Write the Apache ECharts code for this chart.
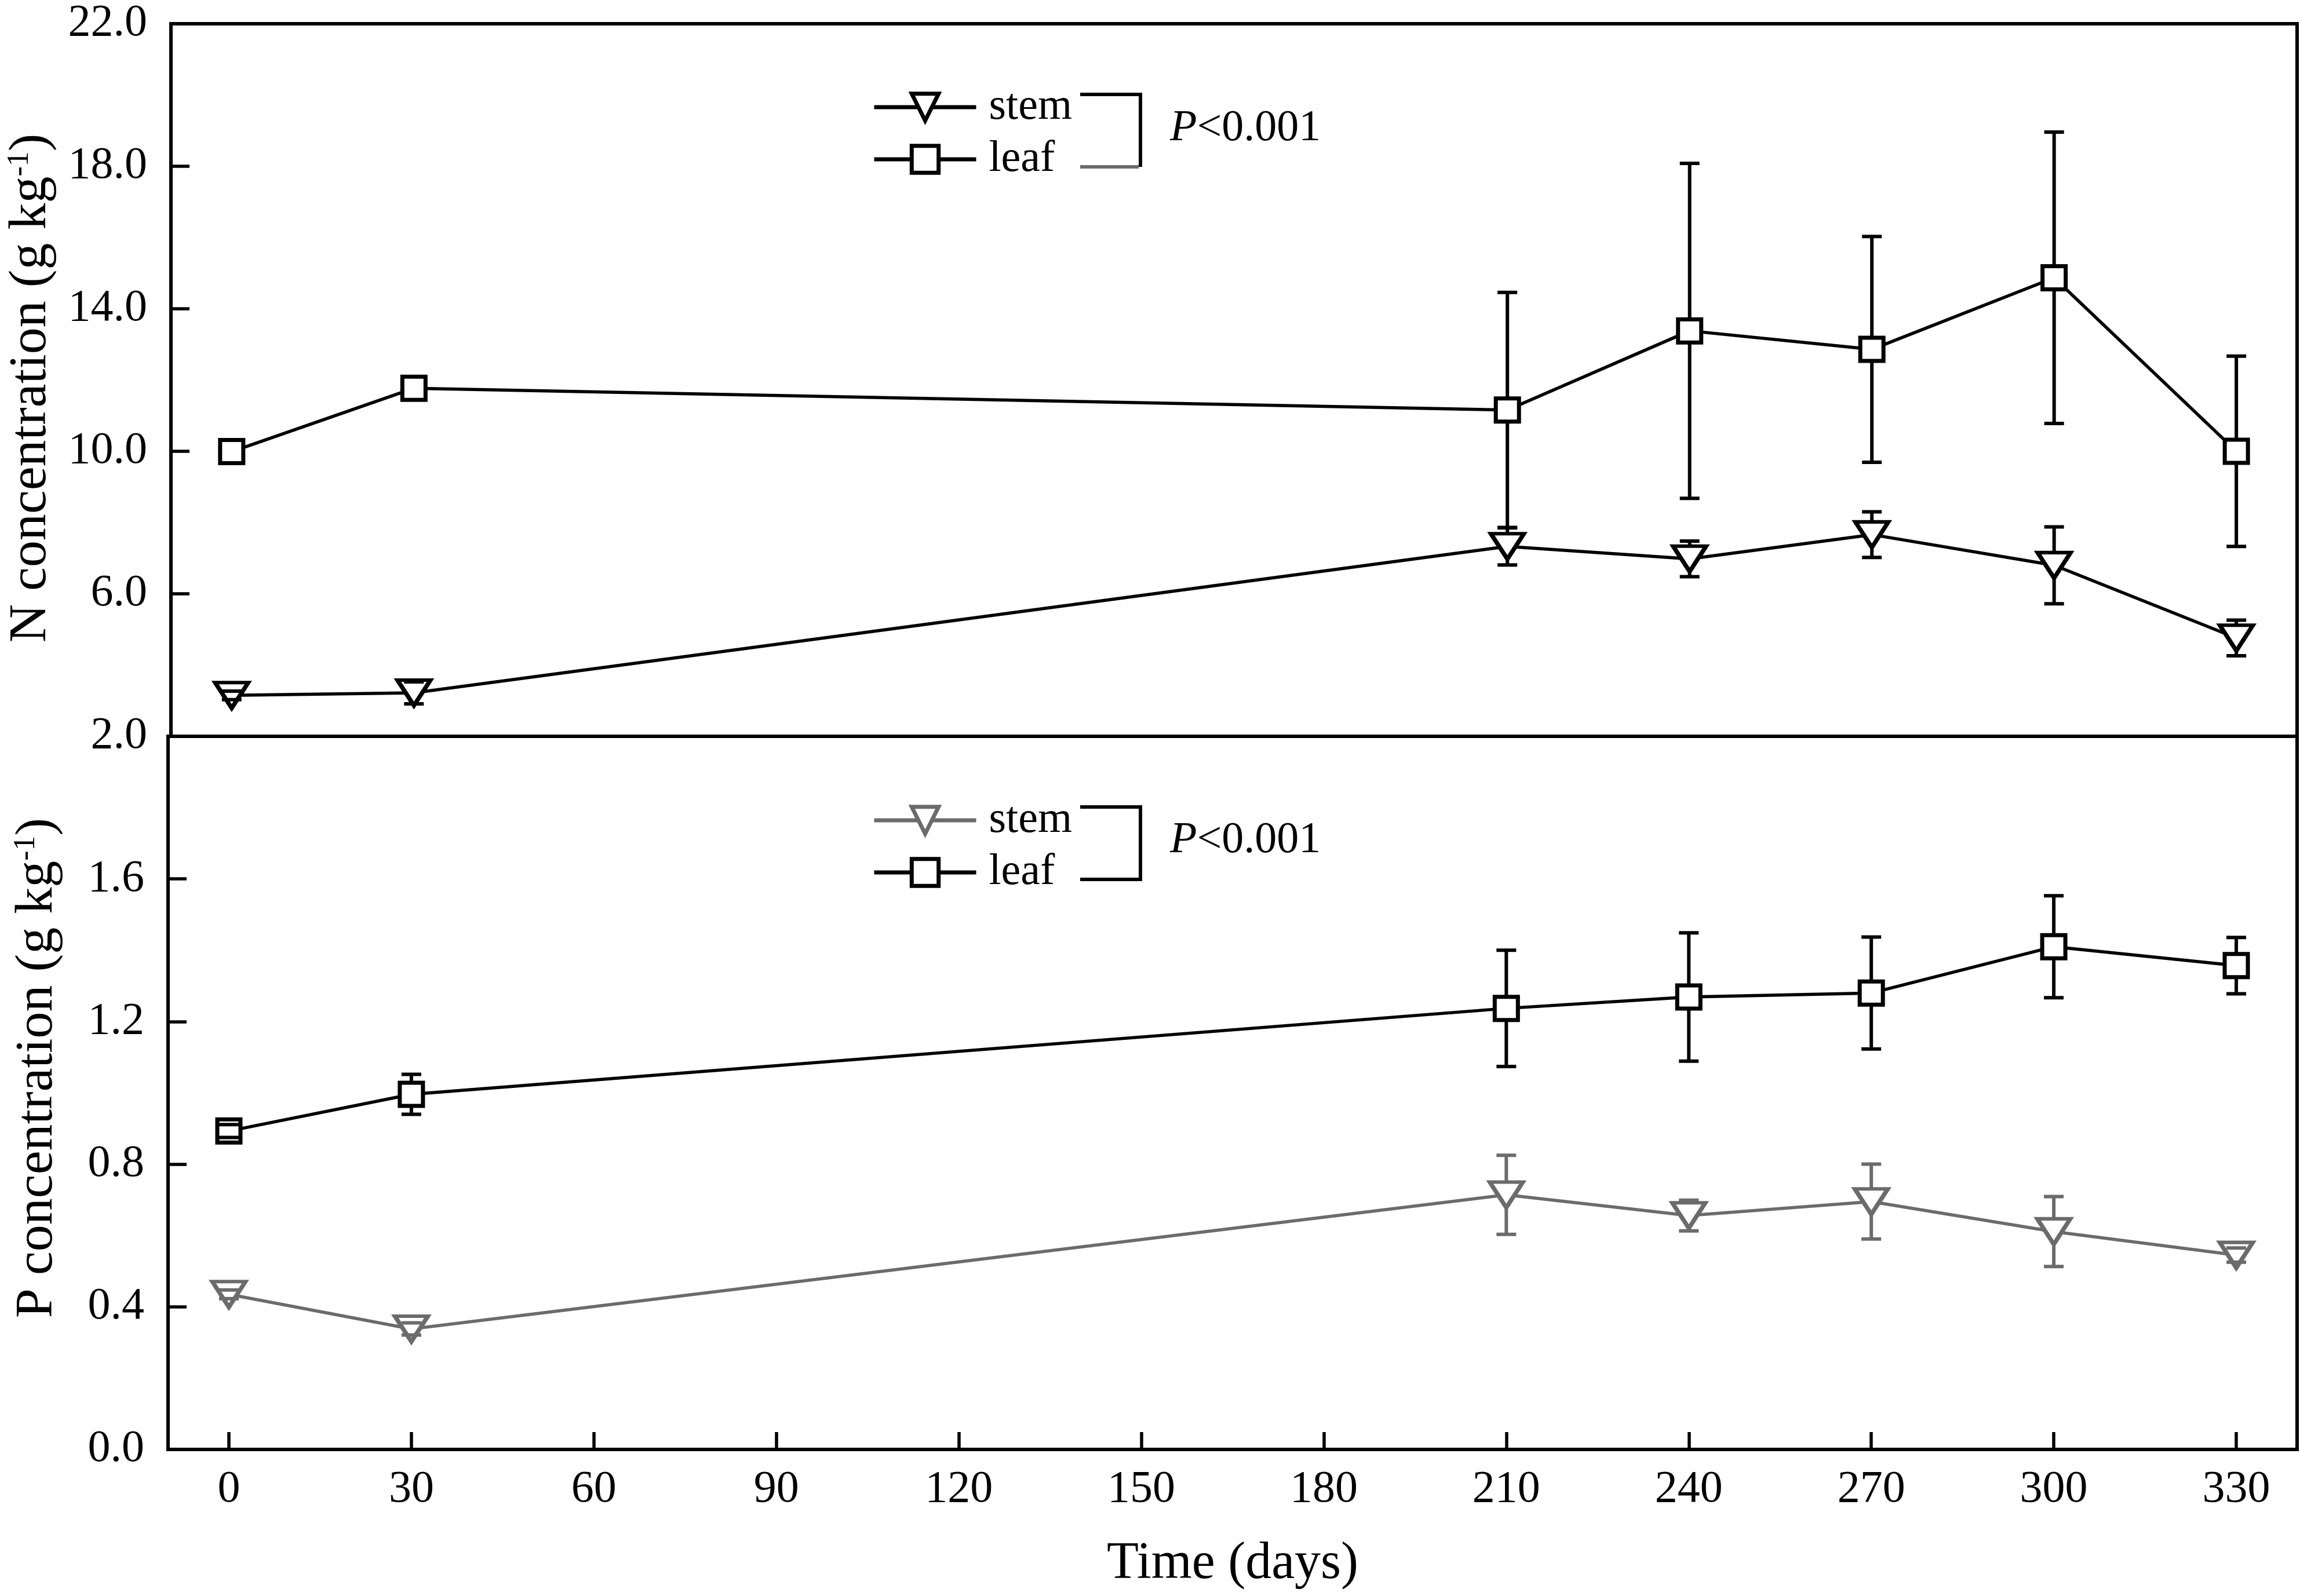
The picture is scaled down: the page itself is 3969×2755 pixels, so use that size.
<!DOCTYPE html>
<html>
<head>
<meta charset="utf-8">
<script src="https://cdn.jsdelivr.net/npm/echarts@6/dist/echarts.min.js"></script>
<style>
  html, body { margin: 0; padding: 0; background: #fff; }
  #chart { width: 3969px; height: 2755px; }
</style>
</head>
<body>
<div id="chart"></div>
<script>
// sampling days
const days = [0, 30, 210, 240, 270, 300, 330];
const xTicks = [0, 30, 60, 90, 120, 150, 180, 210, 240, 270, 300, 330];
const nTicks = [2, 6, 10, 14, 18, 22];
const pTicks = [0, 0.4, 0.8, 1.2, 1.6];

// N concentration (g kg-1), mean and error (0 = bar hidden by the marker)
const nStem = [3.15, 3.22, 7.33, 6.98, 7.66, 6.80, 4.76];
const nStemErr = [0.12, 0.31, 0.52, 0.50, 0.64, 1.08, 0.50];
const nLeaf = [9.99, 11.77, 11.16, 13.38, 12.86, 14.87, 10.0];
const nLeafErr = [0, 0, 3.30, 4.70, 3.17, 4.09, 2.67];

// P concentration (g kg-1), mean and error
const pStem = [0.435, 0.338, 0.714, 0.656, 0.695, 0.611, 0.545];
const pStemErr = [0.012, 0.017, 0.111, 0.043, 0.105, 0.098, 0.02];
const pLeaf = [0.893, 0.996, 1.237, 1.269, 1.280, 1.410, 1.357];
const pLeafErr = [0.018, 0.056, 0.163, 0.180, 0.157, 0.143, 0.079];

const FONT = "'Liberation Serif', 'Times New Roman', serif";
const BLACK = '#000';
const GRAY = '#6b6b6b';

const pts = (vals) => days.map((d, i) => [d, vals[i]]);
const errPts = (vals, errs) => days.map((d, i) => [d, vals[i], errs[i]]);

// vertical part of the error bar (under the markers)
function stemRender(color) {
  return function (params, api) {
    const x = api.value(0), m = api.value(1), e = api.value(2);
    if (!(e > 0)) return null;
    const hi = api.coord([x, m + e]);
    const lo = api.coord([x, m - e]);
    return {
      type: 'line',
      shape: { x1: hi[0], y1: hi[1], x2: lo[0], y2: lo[1] },
      style: { stroke: color, lineWidth: 6 }
    };
  };
}

// caps of the error bar (above the markers)
function capRender(color) {
  return function (params, api) {
    const x = api.value(0), m = api.value(1), e = api.value(2);
    if (!(e > 0)) return null;
    const hi = api.coord([x, m + e]);
    const lo = api.coord([x, m - e]);
    const w = 17;
    return {
      type: 'group',
      children: [
        { type: 'line', shape: { x1: hi[0] - w, y1: hi[1], x2: hi[0] + w, y2: hi[1] }, style: { stroke: color, lineWidth: 6 } },
        { type: 'line', shape: { x1: lo[0] - w, y1: lo[1], x2: lo[0] + w, y2: lo[1] }, style: { stroke: color, lineWidth: 6 } }
      ]
    };
  };
}

function lineSeries(name, symbol, color, vals, idx) {
  return {
    name: name,
    type: 'line',
    xAxisIndex: idx,
    yAxisIndex: idx,
    data: pts(vals),
    z: 3,
    symbol: symbol,
    symbolSize: symbol === 'rect' ? 40 : [57, 44],
    symbolRotate: symbol === 'rect' ? 0 : 180,
    showAllSymbol: true,
    lineStyle: { color: color, width: 5.5 },
    itemStyle: { color: '#fff', borderColor: color, borderWidth: 7 },
    emphasis: { disabled: true }
  };
}

function errSeries(vals, errs, color, idx, part) {
  return {
    type: 'custom',
    xAxisIndex: idx,
    yAxisIndex: idx,
    data: errPts(vals, errs),
    encode: { x: 0, y: 1 },
    z: part === 'stem' ? 1 : 5,
    silent: true,
    renderItem: part === 'stem' ? stemRender(color) : capRender(color)
  };
}

function legendItem(name, color) {
  return {
    name: name,
    itemStyle: { color: '#fff', borderColor: color, borderWidth: 7 },
    lineStyle: { color: color, width: 7 }
  };
}

const axisLineStyle = { onZero: false, lineStyle: { color: BLACK, width: 6 } };
const labelStyle = { color: BLACK, fontFamily: FONT, fontSize: 78 };

const chart = echarts.init(document.getElementById('chart'), null, { renderer: 'canvas' });

const legendBase = {
  orient: 'vertical',
  padding: 0,
  itemWidth: 176,
  itemHeight: 58,
  itemGap: 14,
  selectedMode: false,
  textStyle: { color: BLACK, fontFamily: FONT, fontSize: 76, lineHeight: 58, padding: [0, 0, 0, 17] }
};

chart.setOption({
  animation: false,
  backgroundColor: '#fff',
  grid: [
    { left: 290, right: 5, top: 41, height: 1230, show: true, borderColor: BLACK, borderWidth: 6 },
    { left: 290, right: 5, top: 1271, height: 1231, show: true, borderColor: BLACK, borderWidth: 6 }
  ],
  xAxis: [
    {
      type: 'value', gridIndex: 0, min: -10, max: 340,
      axisLine: axisLineStyle, axisTick: { show: false }, axisLabel: { show: false }, splitLine: { show: false }
    },
    {
      type: 'value', gridIndex: 1, min: -10, max: 340,
      name: 'Time (days)', nameLocation: 'middle', nameGap: 153,
      nameTextStyle: { color: BLACK, fontFamily: FONT, fontSize: 90 },
      axisLine: axisLineStyle,
      axisTick: { inside: true, length: 30, customValues: xTicks, lineStyle: { color: BLACK, width: 5.5 } },
      axisLabel: Object.assign({ margin: 31, customValues: xTicks }, labelStyle),
      splitLine: { show: false }
    }
  ],
  yAxis: [
    {
      type: 'value', gridIndex: 0, min: 2, max: 22,
      name: 'N concentration (g kg{sup|-1})', nameLocation: 'middle', nameGap: 195,
      nameTextStyle: {
        color: BLACK, fontFamily: FONT, fontSize: 92, padding: [0, 28, 0, 0],
        rich: { sup: { fontSize: 52, fontFamily: FONT, color: BLACK, verticalAlign: 'top' } }
      },
      axisLine: axisLineStyle,
      axisTick: { inside: true, length: 32, customValues: nTicks, lineStyle: { color: BLACK, width: 5.5 } },
      axisLabel: Object.assign({ margin: 41, customValues: nTicks, formatter: v => v.toFixed(1) }, labelStyle),
      splitLine: { show: false }
    },
    {
      type: 'value', gridIndex: 1, min: 0, max: 2,
      name: 'P concentration (g kg{sup|-1})', nameLocation: 'middle', nameGap: 179,
      nameTextStyle: {
        color: BLACK, fontFamily: FONT, fontSize: 92, padding: [0, 0, 0, 86],
        rich: { sup: { fontSize: 52, fontFamily: FONT, color: BLACK, verticalAlign: 'top' } }
      },
      axisLine: axisLineStyle,
      axisTick: { inside: true, length: 32, customValues: pTicks, lineStyle: { color: BLACK, width: 5.5 } },
      axisLabel: Object.assign({ margin: 41, customValues: pTicks, formatter: v => v.toFixed(1) }, labelStyle),
      splitLine: { show: false }
    }
  ],
  legend: [
    Object.assign({ left: 1505, top: 147, data: [legendItem('stem', BLACK), legendItem('leaf', BLACK)] }, legendBase),
    Object.assign({ left: 1505, top: 1378, data: [legendItem('stem', GRAY), legendItem('leaf', BLACK)] }, legendBase)
  ],
  graphic: {
    elements: [
      { type: 'polyline', shape: { points: [[1864, 163], [1968, 163], [1968, 288]] }, style: { stroke: BLACK, lineWidth: 6, fill: null } },
      { type: 'line', shape: { x1: 1864, y1: 288, x2: 1965, y2: 288 }, style: { stroke: GRAY, lineWidth: 6 } },
      {
        type: 'text', x: 2019, y: 222,
        style: { text: '{i|P}<0.001', fill: BLACK, fontFamily: FONT, fontSize: 76, verticalAlign: 'middle',
          rich: { i: { fontStyle: 'italic', fontFamily: FONT, fontSize: 76, fill: BLACK } } }
      },
      { type: 'polyline', shape: { points: [[1864, 1393], [1968, 1393], [1968, 1518], [1864, 1518]] }, style: { stroke: BLACK, lineWidth: 6, fill: null } },
      {
        type: 'text', x: 2019, y: 1451,
        style: { text: '{i|P}<0.001', fill: BLACK, fontFamily: FONT, fontSize: 76, verticalAlign: 'middle',
          rich: { i: { fontStyle: 'italic', fontFamily: FONT, fontSize: 76, fill: BLACK } } }
      }
    ]
  },
  series: [
    errSeries(nStem, nStemErr, BLACK, 0, 'stem'),
    errSeries(nLeaf, nLeafErr, BLACK, 0, 'stem'),
    lineSeries('stem', 'triangle', BLACK, nStem, 0),
    lineSeries('leaf', 'rect', BLACK, nLeaf, 0),
    errSeries(nStem, nStemErr, BLACK, 0, 'cap'),
    errSeries(nLeaf, nLeafErr, BLACK, 0, 'cap'),

    errSeries(pStem, pStemErr, GRAY, 1, 'stem'),
    errSeries(pLeaf, pLeafErr, BLACK, 1, 'stem'),
    lineSeries('stem', 'triangle', GRAY, pStem, 1),
    lineSeries('leaf', 'rect', BLACK, pLeaf, 1),
    errSeries(pStem, pStemErr, GRAY, 1, 'cap'),
    errSeries(pLeaf, pLeafErr, BLACK, 1, 'cap')
  ]
});
</script>
</body>
</html>
